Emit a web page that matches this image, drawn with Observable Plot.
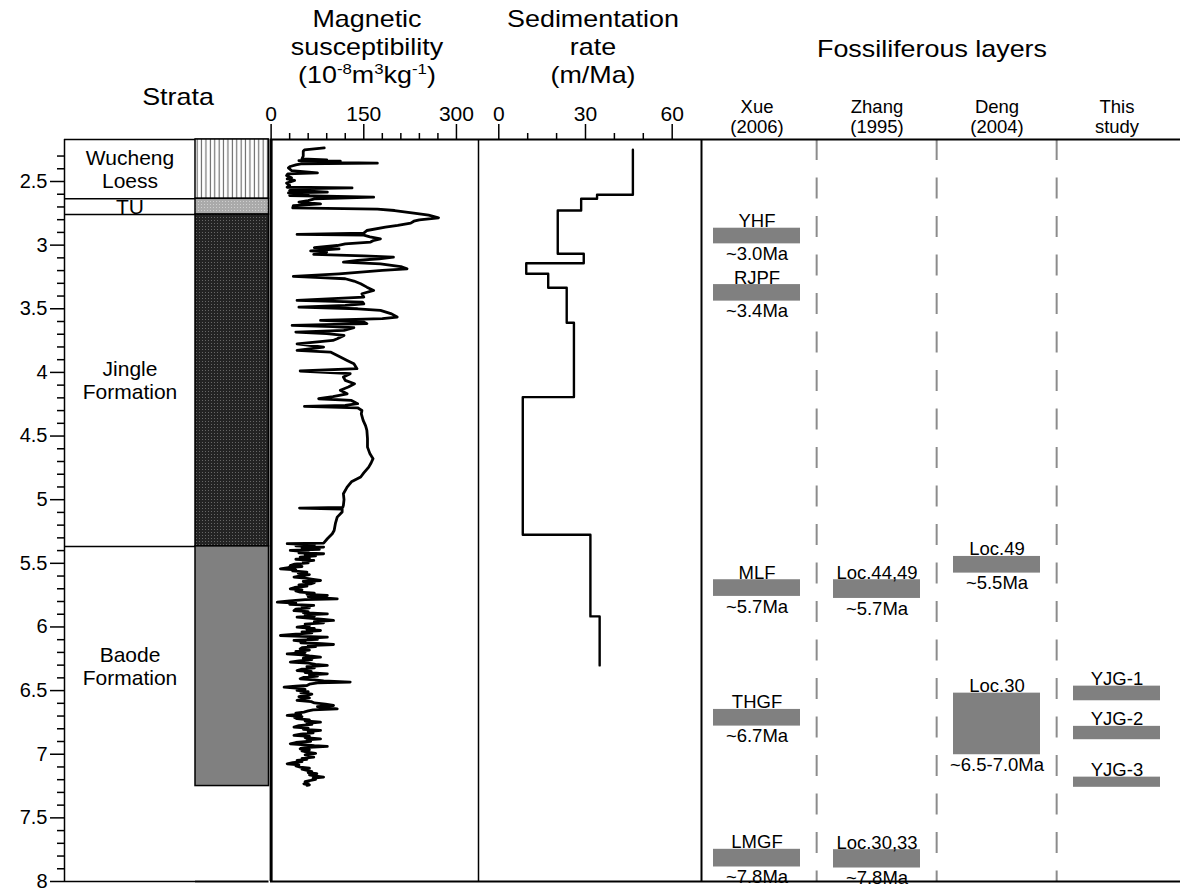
<!DOCTYPE html>
<html>
<head>
<meta charset="utf-8">
<script src="https://cdn.jsdelivr.net/npm/d3@7"></script>
<script src="https://cdn.jsdelivr.net/npm/@observablehq/plot@0.6"></script>
<style>
  body { margin: 0; background: #fff; }
  #chart { position: relative; width: 1180px; height: 892px; overflow: hidden; background: #fff;
           font-family: "Liberation Sans", Arial, Helvetica, sans-serif; color: #000; }
  .title { position: absolute; font-size: 24px; line-height: 28px; white-space: nowrap; text-align: center;
           transform: translateX(-50%) scaleX(1.12); }
  .title sup { font-size: 15px; line-height: 0; vertical-align: 9px; }
  .panel { position: absolute; top: 0; }
  .panel svg { overflow: visible; }
</style>
</head>
<body>
<div id="chart"></div>
<script>
// ---------------- data ----------------
const depthTicks = [2.5, 3, 3.5, 4, 4.5, 5, 5.5, 6, 6.5, 7, 7.5, 8];
const depthMinorTicks = d3.range(23, 81).map(i => i / 10).filter(v => !depthTicks.includes(v));

const strataNames  = ["Wucheng\nLoess", "TU", "Jingle\nFormation", "Baode\nFormation"];
const strataTop    = [2.17, 2.636, 2.76, 5.367];
const strataBottom = [2.636, 2.76, 5.367, 7.25];

const magTicks = [0, 150, 300];
const magMinorTicks = [30, 60, 90, 120, 180, 210, 240, 270];
const magAge = [
  2.236,2.251,2.262,2.300,2.322,2.330,2.336,2.340,2.348,2.356,2.362,2.370,2.382,2.393,2.414,2.432,2.440,2.453,2.471,2.480,
  2.492,2.513,2.531,2.545,2.550,2.558,2.571,2.578,2.584,2.590,2.597,2.610,2.623,2.636,2.650,2.662,2.675,2.689,2.707,2.717,
  2.728,2.749,2.765,2.785,2.801,2.812,2.827,2.845,2.859,2.885,2.906,2.916,2.922,2.935,2.950,2.965,2.976,2.990,3.003,3.020,
  3.030,3.045,3.055,3.073,3.085,3.094,3.107,3.120,3.134,3.147,3.168,3.186,3.199,3.225,3.246,3.255,3.264,3.282,3.303,3.330,
  3.356,3.382,3.408,3.434,3.447,3.461,3.474,3.487,3.500,3.513,3.540,3.565,3.578,3.591,3.604,3.617,3.631,3.640,3.649,3.670,
  3.683,3.696,3.709,3.735,3.749,3.775,3.801,3.827,3.840,3.879,3.906,3.932,3.971,3.989,4.010,4.037,4.063,4.089,4.115,4.140,
  4.168,4.190,4.207,4.220,4.246,4.259,4.267,4.278,4.299,4.325,4.377,4.420,4.456,4.520,4.587,4.640,4.678,4.710,4.744,4.790,
  4.822,4.860,4.901,4.953,5.000,5.045,5.060,5.066,5.074,5.097,5.137,5.189,5.242,5.268,5.307,5.341,5.346,5.355,5.362,5.372,
  5.380,5.390,5.399,5.410,5.418,5.425,5.433,5.441,5.451,5.460,5.468,5.477,5.487,5.497,5.507,5.517,5.525,5.533,5.543,5.552,
  5.560,5.569,5.578,5.588,5.598,5.608,5.617,5.626,5.635,5.643,5.652,5.661,5.670,5.680,5.690,5.700,5.708,5.717,5.726,5.735,
  5.744,5.753,5.762,5.770,5.779,5.786,5.795,5.805,5.813,5.822,5.831,5.840,5.850,5.860,5.871,5.880,5.888,5.897,5.905,5.914,
  5.923,5.932,5.940,5.949,5.958,5.968,5.978,5.990,6.001,6.012,6.020,6.028,6.038,6.047,6.058,6.067,6.074,6.080,6.090,6.098,
  6.106,6.115,6.124,6.132,6.138,6.146,6.155,6.163,6.172,6.182,6.192,6.202,6.211,6.220,6.228,6.237,6.246,6.256,6.266,6.276,
  6.285,6.294,6.302,6.312,6.322,6.332,6.342,6.350,6.358,6.368,6.377,6.387,6.397,6.407,6.415,6.424,6.433,6.440,6.450,6.460,
  6.466,6.473,6.482,6.490,6.499,6.508,6.518,6.528,6.538,6.548,6.558,6.568,6.577,6.587,6.597,6.607,6.617,6.626,6.634,6.643,
  6.652,6.660,6.669,6.678,6.686,6.695,6.704,6.712,6.721,6.730,6.739,6.748,6.757,6.766,6.776,6.787,6.795,6.804,6.813,6.822,
  6.832,6.842,6.852,6.860,6.870,6.879,6.888,6.898,6.908,6.918,6.926,6.933,6.939,6.946,6.952,6.957,6.965,6.974,6.983,6.994,
  7.005,7.014,7.023,7.032,7.040,7.049,7.058,7.066,7.075,7.084,7.092,7.101,7.110,7.118,7.127,7.136,7.144,7.153,7.162,7.171,
  7.180,7.188,7.197,7.206,7.215,7.224,7.232,7.240,7.245
];
const magValue = [
  86,54,52,52,50,90,45,112,50,172,48,40,31,28,33,75,27,25,33,26,
  38,25,30,26,131,37,30,70,91,28,60,30,166,70,60,45,80,36,35,172,
  200,231,255,271,240,231,226,205,185,155,150,42,150,160,177,165,161,120,107,70,
  110,64,90,69,150,198,175,140,117,177,210,220,180,110,36,80,120,134,145,155,
  166,147,150,42,148,150,120,45,140,177,195,204,180,80,150,155,34,100,134,118,
  40,90,118,107,100,42,85,42,96,112,123,134,139,47,128,117,120,135,125,112,
  123,100,77,130,140,120,54,140,147,146,149,153,155,156,156,160,165,162,158,150,
  145,130,123,117,118,117,116,46,115,115,107,104,102,99,91,85,26,70,40,85,
  50,78,31,60,45,85,55,72,47,62,40,69,52,60,38,31,50,28,15,40,
  35,58,44,62,48,37,55,68,80,52,70,64,45,58,38,31,50,40,47,70,
  58,91,60,80,107,55,30,10,40,30,69,50,62,40,37,60,52,91,55,70,
  42,65,85,101,70,85,55,62,42,70,58,80,50,66,35,15,50,91,60,75,
  37,55,48,82,101,60,72,50,47,62,40,55,26,50,62,80,52,66,45,31,
  60,72,91,58,70,50,42,65,55,91,62,75,52,47,70,85,128,75,62,58,
  40,21,45,55,42,60,48,66,58,45,62,50,42,65,70,88,101,75,90,107,
  68,60,53,40,48,26,50,38,42,62,55,80,58,66,45,37,60,52,80,60,
  68,48,37,62,55,80,58,64,40,31,55,70,91,62,50,47,62,50,58,72,
  55,62,69,50,58,42,50,35,26,45,40,47,62,50,58,66,60,74,62,70,
  85,68,72,64,55,60,53,62,58
];

const sedTicks = [0, 30, 60];
const sedMinorTicks = [10, 20, 40, 50];
const sedBreaks = [2.25, 2.604, 2.636, 2.728, 3.068, 3.142, 3.225, 3.335, 3.61, 4.194, 5.276, 5.917, 6.302];
const sedRate   = [46.4, 34, 28.5, 20.4, 29.4, 9.5, 17.1, 23.5, 26, 8.3, 31.7, 34.9];

const fossilColumns     = ["Xue\n(2006)", "Zhang\n(1995)", "Deng\n(2004)", "This\nstudy"];
const fossilColumnIndex = [0, 0, 0, 0, 0, 1, 1, 2, 2, 3, 3, 3];
const fossilName   = ["YHF", "RJPF", "MLF", "THGF", "LMGF", "Loc.44,49", "Loc.30,33", "Loc.49", "Loc.30", "YJG-1", "YJG-2", "YJG-3"];
const fossilAge    = ["~3.0Ma", "~3.4Ma", "~5.7Ma", "~6.7Ma", "~7.8Ma", "~5.7Ma", "~7.8Ma", "~5.5Ma", "~6.5-7.0Ma", "", "", ""];
const fossilTop    = [2.867, 3.31, 5.629, 6.648, 7.747, 5.629, 7.75, 5.446, 6.52, 6.465, 6.781, 7.18];
const fossilBottom = [2.99, 3.44, 5.76, 6.779, 7.886, 5.776, 7.894, 5.577, 7.004, 6.58, 6.886, 7.26];

const titleBlocks = [
  {html: "Strata", cx: 178, top: 83},
  {html: "Magnetic<br>susceptibility<br>(10<sup>-8</sup>m<sup>3</sup>kg<sup>-1</sup>)", cx: 367, top: 5},
  {html: "Sedimentation<br>rate<br>(m/Ma)", cx: 593, top: 5},
  {html: "Fossiliferous layers", cx: 932, top: 35}
];

// ---------------- layout / styles ----------------
const chart = document.getElementById("chart");
const yDomain = [2.17, 8];
const H = 892, MT = 139, MB = 11;
const FONT = "'Liberation Sans', Arial, Helvetica, sans-serif";
const svgStyle = `background:none;overflow:visible;font-family:${FONT};font-size:20px;color:#000;`;
const lithFill = ["url(#loess)", "url(#tu)", "url(#jingle)", "#808080"];

const yScale = (axis) => ({domain: yDomain, reverse: true, label: null, ...(axis ? {} : {axis: null})});

function mount(svg, left, width) {
  const div = document.createElement("div");
  div.className = "panel";
  div.style.left = left + "px";
  div.style.width = width + "px";
  div.appendChild(svg);
  chart.appendChild(div);
}

for (const t of titleBlocks) {
  const d = document.createElement("div");
  d.className = "title";
  d.style.left = t.cx + "px";
  d.style.top = t.top + "px";
  d.innerHTML = t.html;
  chart.appendChild(d);
}

// ---------------- tables ----------------
const strata = strataNames.map((name, i) => ({name, top: strataTop[i], bottom: strataBottom[i]}));
const boundaryLines = [yDomain[0], ...strataTop.slice(1), yDomain[1]];
const mag = magAge.map((age, i) => ({age, value: magValue[i]}));
const sedSteps = sedRate.flatMap((r, i) => [{age: sedBreaks[i], rate: r}, {age: sedBreaks[i + 1], rate: r}]);
const fossils = fossilName.map((name, i) => ({
  column: fossilColumns[fossilColumnIndex[i]], name, age: fossilAge[i], top: fossilTop[i], bottom: fossilBottom[i]
}));

// ---------------- panel 1: depth axis + strata names ----------------
mount(Plot.plot({
  width: 195, height: H, marginTop: MT, marginBottom: MB, marginLeft: 64, marginRight: 0,
  style: svgStyle,
  x: {domain: [0, 1], axis: null},
  y: yScale(true),
  marks: [
    Plot.ruleY(boundaryLines, {stroke: "#000", strokeWidth: 1.5}),
    Plot.ruleX([0], {stroke: "#000", strokeWidth: 1.5}),
    Plot.text(strata, {y: d => (d.top + d.bottom) / 2, text: "name", fontSize: 21, lineHeight: 1.1, lineAnchor: "middle"}),
    Plot.axisY({ticks: depthMinorTicks, tickSize: 7, tickFormat: () => "", strokeWidth: 1.5, label: null}),
    Plot.axisY({ticks: depthTicks, tickSize: 14, tickPadding: 3, tickFormat: d => `${d}`, fontSize: 20, strokeWidth: 1.5, label: null})
  ]
}), 0, 195);

// ---------------- panel 2: lithology column ----------------
const lithSvg = Plot.plot({
  width: 75, height: H, marginTop: MT, marginBottom: MB, marginLeft: 0, marginRight: 1.5,
  style: svgStyle,
  y: yScale(false),
  color: {domain: strataNames, range: lithFill},
  marks: [
    Plot.ruleY([yDomain[0], yDomain[1]], {stroke: "#000", strokeWidth: 2}),
    Plot.rect(strata, {y1: "top", y2: "bottom", fill: "name", stroke: "#000", strokeWidth: 1.5})
  ]
});
{
  const defs = d3.select(lithSvg).insert("defs", ":first-child");
  const p1 = defs.append("pattern").attr("id", "loess").attr("patternUnits", "userSpaceOnUse").attr("width", 4.4).attr("height", 10);
  p1.append("rect").attr("width", 4.4).attr("height", 10).attr("fill", "#fff");
  p1.append("rect").attr("x", 1.6).attr("width", 1.1).attr("height", 10).attr("fill", "#666");
  const p2 = defs.append("pattern").attr("id", "tu").attr("patternUnits", "userSpaceOnUse").attr("width", 3).attr("height", 3);
  p2.append("rect").attr("width", 3).attr("height", 3).attr("fill", "#aaaaaa");
  p2.append("rect").attr("width", 1).attr("height", 1).attr("fill", "#cfcfcf");
  const p3 = defs.append("pattern").attr("id", "jingle").attr("patternUnits", "userSpaceOnUse").attr("width", 3).attr("height", 3);
  p3.append("rect").attr("width", 3).attr("height", 3).attr("fill", "#232323");
  p3.append("rect").attr("x", 1).attr("y", 1).attr("width", 1).attr("height", 1).attr("fill", "#666");
}
mount(lithSvg, 195, 75);

// ---------------- panel 3: magnetic susceptibility ----------------
const magDomain = [-1, 335.7];
mount(Plot.plot({
  width: 208, height: H, marginTop: MT, marginBottom: MB, marginLeft: 0, marginRight: 0,
  style: svgStyle,
  x: {domain: magDomain, label: null},
  y: yScale(false),
  marks: [
    Plot.ruleY([yDomain[0], yDomain[1]], {stroke: "#000", strokeWidth: 2}),
    Plot.ruleX([magDomain[1]], {stroke: "#000", strokeWidth: 1.5}),
    Plot.line(mag, {x: "value", y: "age", stroke: "#000", strokeWidth: 2.8, strokeLinejoin: "round"}),
    Plot.ruleX([0], {stroke: "#000", strokeWidth: 3}),
    Plot.axisX({anchor: "top", ticks: magMinorTicks, tickSize: 7, tickFormat: () => "", strokeWidth: 1.5, label: null}),
    Plot.axisX({anchor: "top", ticks: magTicks, tickSize: 16, tickPadding: 3, tickFormat: d => `${d}`, fontSize: 21, strokeWidth: 1.5, label: null})
  ]
}), 270, 208);

// ---------------- panel 4: sedimentation rate ----------------
const sedDomain = [-7.02, 70.14];
mount(Plot.plot({
  width: 223, height: H, marginTop: MT, marginBottom: MB, marginLeft: 0, marginRight: 0,
  style: svgStyle,
  x: {domain: sedDomain, label: null},
  y: yScale(false),
  marks: [
    Plot.ruleY([yDomain[0], yDomain[1]], {stroke: "#000", strokeWidth: 2}),
    Plot.ruleX([sedDomain[1]], {stroke: "#000", strokeWidth: 2}),
    Plot.line(sedSteps, {x: "rate", y: "age", stroke: "#000", strokeWidth: 2.4}),
    Plot.axisX({anchor: "top", ticks: sedMinorTicks, tickSize: 7, tickFormat: () => "", strokeWidth: 1.5, label: null}),
    Plot.axisX({anchor: "top", ticks: sedTicks, tickSize: 16, tickPadding: 3, tickFormat: d => `${d}`, fontSize: 21, strokeWidth: 1.5, label: null})
  ]
}), 478, 223);

// ---------------- panel 5: fossiliferous layers ----------------
const fossilWidth = 479;
const padInner = 0.279, padOuter = 0.124, bandAlign = 0.37;
const colStep = fossilWidth / (fossilColumns.length - padInner + 2 * padOuter);
mount(Plot.plot({
  width: fossilWidth, height: H, marginTop: MT, marginBottom: MB, marginLeft: 0, marginRight: 0,
  style: svgStyle,
  x: {type: "band", domain: fossilColumns, paddingInner: padInner, paddingOuter: padOuter, align: bandAlign, label: null},
  y: yScale(false),
  marks: [
    Plot.ruleX(fossilColumns.slice(1), {dx: -colStep / 2, stroke: "#8c8c8c", strokeWidth: 2, strokeDasharray: "21,17.5"}),
    Plot.ruleY([yDomain[0], yDomain[1]], {stroke: "#000", strokeWidth: 2}),
    Plot.barY(fossils, {x: "column", y1: "top", y2: "bottom", fill: "#808080"}),
    Plot.text(fossils, {x: "column", y: "top", text: "name", lineAnchor: "bottom", dy: -1, fontSize: 18.5}),
    Plot.text(fossils.filter(d => d.age), {x: "column", y: "bottom", text: "age", lineAnchor: "top", dy: 3, fontSize: 18.5}),
    Plot.axisX({anchor: "top", tickSize: 0, tickPadding: 7, fontSize: 18.5, lineHeight: 1.08, label: null})
  ]
}), 701, fossilWidth);
</script>
</body>
</html>
